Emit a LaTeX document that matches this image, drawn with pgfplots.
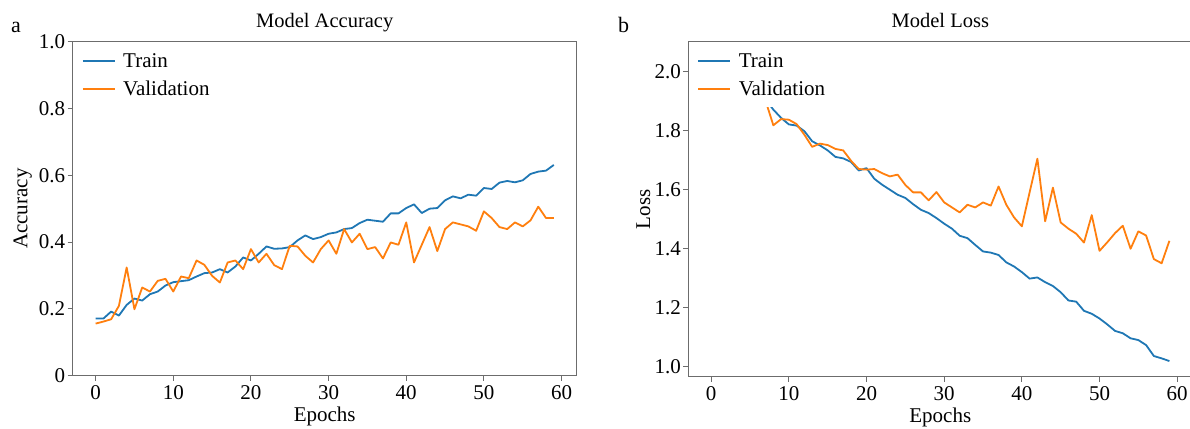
\documentclass[border=0pt]{standalone}
\usepackage{fontspec}
\setmainfont{Liberation Serif}
\usepackage{pgfplots}
\usepackage{pgfplotstable}
\pgfplotsset{compat=1.18}

\definecolor{mblue}{RGB}{31,119,180}
\definecolor{morange}{RGB}{255,127,14}

% epoch, train, validation
\pgfplotstableread{
ep tr va
0 0.171 0.156
1 0.171 0.162
2 0.192 0.169
3 0.180 0.209
4 0.212 0.324
5 0.231 0.199
6 0.225 0.264
7 0.244 0.252
8 0.252 0.284
9 0.270 0.290
10 0.280 0.252
11 0.283 0.297
12 0.286 0.292
13 0.297 0.345
14 0.307 0.332
15 0.309 0.299
16 0.319 0.279
17 0.309 0.339
18 0.327 0.345
19 0.354 0.319
20 0.345 0.379
21 0.365 0.339
22 0.387 0.365
23 0.380 0.331
24 0.381 0.319
25 0.385 0.389
26 0.405 0.387
27 0.420 0.359
28 0.409 0.339
29 0.415 0.379
30 0.425 0.405
31 0.429 0.365
32 0.439 0.439
33 0.442 0.399
34 0.457 0.425
35 0.467 0.379
36 0.464 0.385
37 0.461 0.351
38 0.486 0.399
39 0.486 0.392
40 0.502 0.459
41 0.513 0.339
42 0.487 0.392
43 0.500 0.445
44 0.502 0.373
45 0.525 0.439
46 0.537 0.459
47 0.531 0.453
48 0.542 0.447
49 0.539 0.434
50 0.562 0.492
51 0.559 0.472
52 0.578 0.445
53 0.583 0.439
54 0.579 0.459
55 0.585 0.447
56 0.604 0.465
57 0.611 0.506
58 0.614 0.472
59 0.631 0.472
}\accdata

% epochs 0-7 lie behind the legend
\pgfplotstableread{
ep tr va
0 2.040 2.000
1 2.020 1.990
2 2.000 1.980
3 1.980 1.960
4 1.960 1.950
5 1.940 1.940
6 1.920 1.920
7 1.905 1.900
8 1.870 1.817
9 1.842 1.838
10 1.820 1.836
11 1.816 1.821
12 1.797 1.785
13 1.763 1.744
14 1.749 1.755
15 1.732 1.750
16 1.710 1.737
17 1.705 1.732
18 1.693 1.697
19 1.664 1.669
20 1.672 1.667
21 1.636 1.669
22 1.616 1.655
23 1.599 1.644
24 1.582 1.650
25 1.571 1.615
26 1.550 1.590
27 1.531 1.590
28 1.520 1.563
29 1.503 1.591
30 1.484 1.556
31 1.467 1.539
32 1.443 1.522
33 1.435 1.548
34 1.412 1.539
35 1.390 1.556
36 1.386 1.545
37 1.378 1.610
38 1.353 1.548
39 1.339 1.505
40 1.320 1.475
41 1.298 1.590
42 1.302 1.704
43 1.286 1.492
44 1.273 1.606
45 1.252 1.488
46 1.224 1.467
47 1.220 1.450
48 1.189 1.420
49 1.179 1.513
50 1.163 1.392
51 1.143 1.421
52 1.121 1.452
53 1.113 1.477
54 1.096 1.399
55 1.090 1.458
56 1.073 1.444
57 1.036 1.364
58 1.028 1.350
59 1.019 1.426
}\lossdata

\pgfplotsset{
  panel/.style={
    scale only axis,
    width=504pt,
    xmin=-2.95, xmax=61.95,
    xtick={0,10,20,30,40,50,60},
    xticklabels={\textrm{0},\textrm{10},\textrm{20},\textrm{30},\textrm{40},\textrm{50},\textrm{60}},
    xtick pos=bottom, ytick pos=left,
    tick align=outside,
    major tick length=5pt,
    tick style={gray!85!black, line width=1pt},
    axis line style={gray!85!black, line width=1.3pt},
    /pgf/number format/assume math mode=true,
    tick label style={font=\rmfamily\fontsize{21}{24}\selectfont},
    xticklabel style={yshift=-1pt},
    yticklabel style={xshift=1pt},
    label style={font=\rmfamily\fontsize{21}{24}\selectfont},
    title style={font=\rmfamily\fontsize{20.5}{24}\selectfont, at={(axis description cs:0.5,1)}, anchor=base, yshift=7.7pt},
    xlabel style={at={(axis description cs:0.5,0)}, anchor=base, yshift=-45.3pt},
    xlabel={Epochs},
    every axis plot/.append style={line width=1.8pt, line join=round},
    legend cell align=left,
    legend image code/.code={\draw[#1] (0pt,0pt) -- (32pt,0pt);},
    legend style={at={(axis description cs:0,1)}, anchor=north west,
      xshift=1pt, yshift=-1pt, draw=none, fill=white,
      inner xsep=8pt, inner ysep=9pt, row sep=9pt, column sep=6pt,
      nodes={inner sep=1.5pt},
      font=\rmfamily\fontsize{21}{24}\selectfont},
  }
}

\begin{document}
\begin{tikzpicture}
\path[use as bounding box] (0pt,0pt) rectangle (1190pt,428pt);

\begin{axis}[panel,
  at={(72.7pt,52.3pt)}, anchor=south west,
  height=334pt,
  ymin=0, ymax=1.0,
  ytick={0,0.2,0.4,0.6,0.8,1.0},
  yticklabels={\textrm{0},\textrm{0.2},\textrm{0.4},\textrm{0.6},\textrm{0.8},\textrm{1.0}},
  title={Model Accuracy},
  ylabel={Accuracy},
  ylabel style={at={(axis description cs:-0.0899,0.5)}, anchor=base},
]
\addplot[mblue] table[x=ep, y=tr] {\accdata};
\addlegendentry{Train}
\addplot[morange] table[x=ep, y=va] {\accdata};
\addlegendentry{Validation}
\end{axis}

\begin{axis}[panel,
  at={(688.3pt,51.3pt)}, anchor=south west,
  height=335pt,
  ymin=0.966, ymax=2.1,
  ytick={1.0,1.2,1.4,1.6,1.8,2.0},
  yticklabels={\textrm{1.0},\textrm{1.2},\textrm{1.4},\textrm{1.6},\textrm{1.8},\textrm{2.0}},
  title={Model Loss},
  ylabel={Loss},
  ylabel style={at={(axis description cs:-0.076,0.5)}, anchor=base},
]
\addplot[mblue] table[x=ep, y=tr] {\lossdata};
\addlegendentry{Train}
\addplot[morange] table[x=ep, y=va] {\lossdata};
\addlegendentry{Validation}
\end{axis}

\node[anchor=base west, inner sep=0pt, font=\fontsize{22}{26}\selectfont] at (11pt,395pt) {a};
\node[anchor=base west, inner sep=0pt, font=\fontsize{22}{26}\selectfont] at (618pt,395pt) {b};
\end{tikzpicture}
\end{document}
